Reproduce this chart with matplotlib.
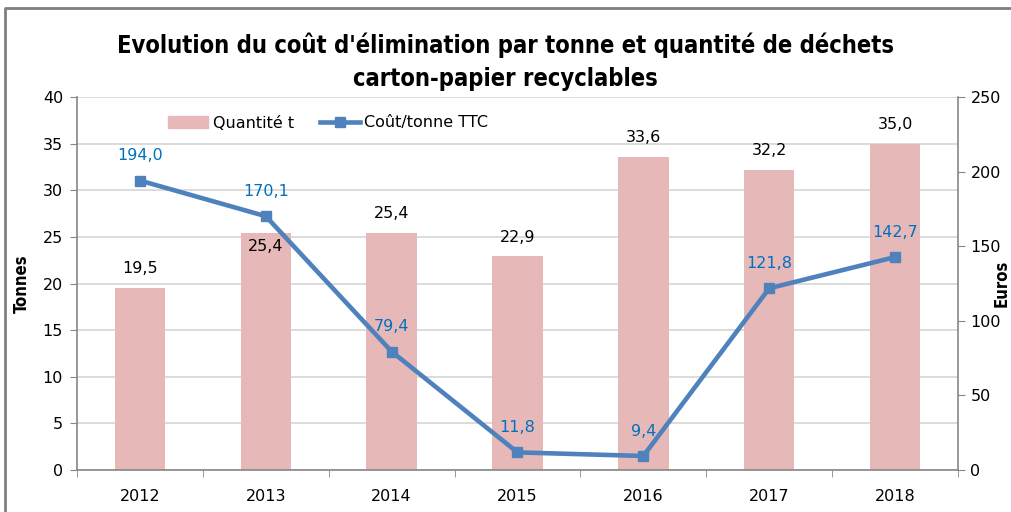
import matplotlib.pyplot as plt
from matplotlib.lines import Line2D
from matplotlib.patches import Patch

# data
years = ["2012", "2013", "2014", "2015", "2016", "2017", "2018"]
quantite = [19.5, 25.4, 25.4, 22.9, 33.6, 32.2, 35.0]
cout = [194.0, 170.1, 79.4, 11.8, 9.4, 121.8, 142.7]

BAR_COLOR = "#E6B9B8"
LINE_COLOR = "#4F81BD"
LABEL_BLUE = "#0070C0"
GRID = "#D9D9D9"
SPINE = "#868686"
FS = 11.5

plt.rcParams["font.family"] = ["DejaVu Sans"]


def fr(v):
    return f"{v:.1f}".replace(".", ",")


fig = plt.figure(figsize=(10.11, 5.12), dpi=100)
ax = fig.add_axes([77 / 1011, 1 - 470 / 512, (958 - 77) / 1011, (470 - 97) / 512])
ax2 = ax.twinx()

x = list(range(len(years)))
ax.bar(x, quantite, width=0.4, color=BAR_COLOR, zorder=2)
ax2.plot(x, cout, color=LINE_COLOR, lw=3.3, marker="s", ms=7, zorder=3)

ax.set_xlim(-0.5, len(years) - 0.5)
ax.set_ylim(0, 40)
ax.set_yticks(range(0, 41, 5))
ax2.set_ylim(0, 250)
ax2.set_yticks(range(0, 251, 50))

ax.set_xticks(x)
ax.set_xticklabels(years)
ax.tick_params(axis="x", length=0, pad=14, labelsize=FS)
ax.set_xticks([i - 0.5 for i in range(len(years) + 1)], minor=True)
ax.tick_params(axis="x", which="minor", length=5, color=SPINE)
ax.tick_params(axis="y", length=5, color=SPINE, labelsize=FS, pad=5)
ax2.tick_params(axis="y", length=5, color=SPINE, labelsize=FS, pad=4)

ax.grid(axis="y", color=GRID, lw=1.3, zorder=0)
ax.set_axisbelow(True)
for a in (ax, ax2):
    a.spines["top"].set_visible(False)
    for s in ("left", "right", "bottom"):
        a.spines[s].set_color(SPINE)
        a.spines[s].set_linewidth(1.2)
ax.spines["right"].set_visible(False)
ax2.spines["left"].set_visible(False)
ax2.spines["bottom"].set_visible(False)

ax.set_ylabel("Tonnes", fontsize=12, fontweight="bold", fontstretch="condensed")
ax.yaxis.set_label_coords(-0.052, 0.5)
ax2.set_ylabel("Euros", fontsize=12, fontweight="bold", fontstretch="condensed", rotation=90)
ax2.yaxis.set_label_coords(1.0395, 0.5)

# value labels
for i, v in enumerate(quantite):
    if i == 1:
        ax.annotate(fr(v), (i, v), xytext=(0, -4), textcoords="offset points",
                    ha="center", va="top", fontsize=FS, zorder=5)
    else:
        ax.annotate(fr(v), (i, v), xytext=(0, 8.5), textcoords="offset points",
                    ha="center", va="bottom", fontsize=FS, zorder=5)
for i, v in enumerate(cout):
    ax2.annotate(fr(v), (i, v), xytext=(0, 12.5), textcoords="offset points",
                 ha="center", va="bottom", fontsize=FS, color=LABEL_BLUE, zorder=5)

handles = [Patch(color=BAR_COLOR),
           Line2D([], [], color=LINE_COLOR, lw=3.3, marker="s", ms=7)]
fig.legend(handles, ["Quantité t", "Coût/tonne TTC"], loc="center left",
           bbox_to_anchor=(154 / 1011, 1 - 123 / 512), ncol=2, frameon=False,
           fontsize=FS, handlelength=2.5, columnspacing=1.6, handletextpad=0.3)

fig.suptitle("Evolution du coût d'élimination par tonne et quantité de déchets\ncarton-papier recyclables",
             x=0.5, y=1 - 33 / 512, va="top", fontsize=17, fontweight="bold",
             fontstretch="condensed", linespacing=1.45)

# chart frame (top and left edges visible)
fig.add_artist(Line2D([5 / 1011, 5 / 1011, 1], [0, 1 - 8 / 512, 1 - 8 / 512],
                      transform=fig.transFigure, color="#7F7F7F", lw=2))

fig.savefig("out.png", dpi=100)
